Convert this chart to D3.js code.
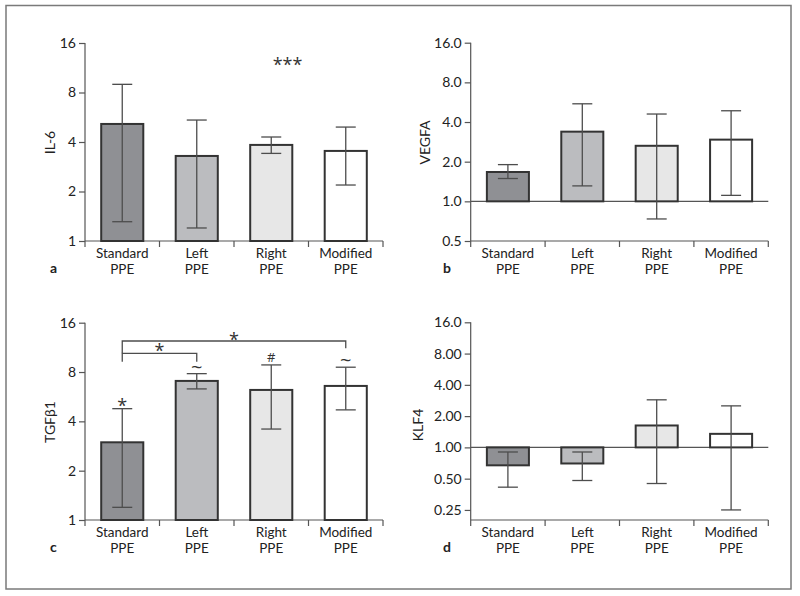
<!DOCTYPE html>
<html><head><meta charset="utf-8">
<script src="https://cdn.jsdelivr.net/npm/d3@7"></script>
<style>
body{margin:0;background:#fff;}
svg{display:block;font-family:Lato,"Open Sans",sans-serif;}
</style></head>
<body><svg id="chart" width="800" height="596"></svg>
<script>
const categories = [["Standard","PPE"],["Left","PPE"],["Right","PPE"],["Modified","PPE"]];
const barFills = ["#8f9094","#bbbcbf","#e7e7e7","#ffffff"];

// Panel a: IL-6
const il6Mean = [5.15, 3.29, 3.84, 3.53];
const il6Low  = [1.31, 1.20, 3.41, 2.19];
const il6High = [8.97, 5.44, 4.29, 4.93];
const il6Ticks = [1, 2, 4, 8, 16];
const il6TickLabels = ["1","2","4","8","16"];

// Panel b: VEGFA
const vegfaMean = [1.67, 3.38, 2.64, 2.94];
const vegfaLow  = [1.49, 1.31, 0.735, 1.11];
const vegfaHigh = [1.90, 5.5, 4.6, 4.87];
const vegfaTicks = [0.5, 1, 2, 4, 8, 16];
const vegfaTickLabels = ["0.5","1.0","2.0","4.0","8.0","16.0"];

// Panel c: TGFβ1
const tgfMean = [2.98, 7.06, 6.22, 6.58];
const tgfLow  = [1.195, 6.31, 3.59, 4.70];
const tgfHigh = [4.78, 7.82, 8.84, 8.56];
const tgfTicks = [1, 2, 4, 8, 16];
const tgfTickLabels = ["1","2","4","8","16"];
const tgfMarks = ["*","~","#","~"];

// Panel d: KLF4
const klfMean = [0.672, 0.70, 1.625, 1.35];
const klfLow  = [0.414, 0.48, 0.449, 0.25];
const klfHigh = [0.903, 0.903, 2.87, 2.51];
const klfTicks = [0.25, 0.5, 1, 2, 4, 8, 16];
const klfTickLabels = ["0.25","0.50","1.00","2.00","4.00","8.00","16.0"];

const svg = d3.select("#chart");
svg.append("rect").attr("x",6).attr("y",5.5).attr("width",785).attr("height",583.5)
  .attr("fill","none").attr("stroke","#7a7a7a").attr("stroke-width",1.5);

const axisColor = "#555";
const textColor = "#222";
const panels = [
  {letter:"a", label:"IL-6", mean:il6Mean, low:il6Low, high:il6High, ticks:il6Ticks, tickLabels:il6TickLabels,
   domain:[1,16], base:1, x0:85, x1:383, yTop:43, yBot:241, labelX:55, labelY:142.5, letterX:50},
  {letter:"b", label:"VEGFA", mean:vegfaMean, low:vegfaLow, high:vegfaHigh, ticks:vegfaTicks, tickLabels:vegfaTickLabels,
   domain:[0.5,16], base:1, x0:470.7, x1:768.3, yTop:42.7, yBot:241, labelX:430, labelY:142.5, letterX:443, baseline:true},
  {letter:"c", label:"TGFβ1", mean:tgfMean, low:tgfLow, high:tgfHigh, ticks:tgfTicks, tickLabels:tgfTickLabels,
   domain:[1,16], base:1, x0:85, x1:383, yTop:322.7, yBot:520, labelX:55, labelY:422, letterX:50, marks:tgfMarks},
  {letter:"d", label:"KLF4", mean:klfMean, low:klfLow, high:klfHigh, ticks:klfTicks, tickLabels:klfTickLabels,
   domain:[0.2,16], base:1, x0:470.7, x1:768.3, yTop:322.3, yBot:520, labelX:423, labelY:425, letterX:443, baseline:true}
];

panels.forEach(p => {
  const g = svg.append("g");
  const x = d3.scaleBand().domain(d3.range(categories.length)).range([p.x0, p.x1]).padding(0);
  const y = d3.scaleLog().base(2).domain(p.domain).range([p.yBot, p.yTop]);

  // Y axis
  const yAxis = d3.axisLeft(y).tickValues(p.ticks).tickFormat((d,i)=>p.tickLabels[i]).tickSize(6).tickPadding(3);
  const ya = g.append("g").attr("transform",`translate(${p.x0},0)`).call(yAxis);
  ya.select(".domain").attr("d",`M-0,${p.yTop}V${p.yBot}`);
  ya.selectAll("path,line").attr("stroke",axisColor).attr("stroke-width",1.2);
  ya.selectAll("text").attr("font-size",14).attr("fill",textColor).attr("font-family","Lato,'Open Sans',sans-serif");

  // X axis with ticks at band boundaries
  const xa = g.append("g").attr("transform",`translate(0,${p.yBot})`);
  xa.append("line").attr("x1",p.x0).attr("x2",p.x1).attr("stroke",axisColor).attr("stroke-width",1.2);
  const bounds = d3.range(categories.length+1).map(i => p.x0 + i*x.step());
  xa.selectAll("line.tk").data(bounds).join("line").attr("class","tk")
    .attr("x1",d=>d).attr("x2",d=>d).attr("y1",0).attr("y2",6)
    .attr("stroke",axisColor).attr("stroke-width",1.2);
  [0,1].forEach(k => {
    xa.selectAll(`text.cat${k}`).data(categories).join("text").attr("class",`cat${k}`)
      .attr("text-anchor","middle").attr("font-size",13.5).attr("fill",textColor)
      .attr("x",(d,i)=>x(i)+x.bandwidth()/2).attr("y",k===0?16.5:33).text(d=>d[k]);
  });

  // Baseline at 1
  if (p.baseline) {
    g.append("line").attr("x1",p.x0).attr("x2",p.x1).attr("y1",y(p.base)).attr("y2",y(p.base))
      .attr("stroke",axisColor).attr("stroke-width",1.2);
  }

  const bw = x.bandwidth()*0.565;
  const cx = i => x(i) + x.bandwidth()/2;
  // Bars
  g.selectAll("rect.bar").data(p.mean).join("rect").attr("class","bar")
    .attr("x",(d,i)=>cx(i)-bw/2).attr("width",bw)
    .attr("y",d=>Math.min(y(d),y(p.base))).attr("height",d=>Math.abs(y(d)-y(p.base)))
    .attr("fill",(d,i)=>barFills[i]).attr("stroke","#333").attr("stroke-width",2);

  // Error bars
  const cap = 10;
  const eg = g.selectAll("g.err").data(p.mean).join("g").attr("class","err")
    .attr("stroke","#4d4d4d").attr("stroke-width",1.3);
  eg.append("line").attr("x1",(d,i)=>cx(i)).attr("x2",(d,i)=>cx(i))
    .attr("y1",(d,i)=>y(p.low[i])).attr("y2",(d,i)=>y(p.high[i]));
  eg.append("line").attr("x1",(d,i)=>cx(i)-cap).attr("x2",(d,i)=>cx(i)+cap)
    .attr("y1",(d,i)=>y(p.high[i])).attr("y2",(d,i)=>y(p.high[i]));
  eg.append("line").attr("x1",(d,i)=>cx(i)-cap).attr("x2",(d,i)=>cx(i)+cap)
    .attr("y1",(d,i)=>y(p.low[i])).attr("y2",(d,i)=>y(p.low[i]));

  // Axis label
  g.append("text").attr("transform",`translate(${p.labelX},${p.labelY}) rotate(-90)`)
    .attr("text-anchor","middle").attr("font-size",14).attr("fill",textColor).text(p.label);
  // Panel letter
  g.append("text").attr("x",p.letterX).attr("y",p.yBot+32).attr("font-size",14).attr("font-weight","bold")
    .attr("fill",textColor).text(p.letter);

  p.x = x; p.y = y; p.cx = cx; p.g = g;
});

// Panel a significance
{
  const p = panels[0];
  p.g.append("text").attr("x",(p.cx(2)+p.cx(3))/2 - 21).attr("y",p.yTop+28).attr("text-anchor","middle")
    .attr("font-family","'Open Sans',sans-serif")
    .attr("font-size",18).attr("fill","#333").text("***");
}
// Panel c marks and brackets
{
  const p = panels[2];
  const markSize = {"*":18, "~":20, "#":13};
  const markShift = {"*":3, "~":0, "#":-3};
  p.g.selectAll("text.mark").data(p.marks).join("text").attr("class","mark")
    .attr("x",(d,i)=>p.cx(i)).attr("text-anchor","middle")
    .attr("y",(d,i)=>p.y(p.high[i]) + markShift[d])
    .attr("font-family","'Open Sans',sans-serif")
    .attr("font-size",d=>markSize[d]).attr("fill","#333").text(d=>d);
  const bg = p.g.append("g").attr("fill","none").attr("stroke","#4d4d4d").attr("stroke-width",1.3);
  const xs = p.cx(0), xl = p.cx(1), xm = p.cx(3);
  bg.append("path").attr("d",`M${xs},361.7V353.3H${xl}V361.7`);
  bg.append("path").attr("d",`M${xs},353.3V341H${xm}V348.3`);
  p.g.append("text").attr("x",(xs+xl)/2).attr("y",357).attr("text-anchor","middle")
    .attr("font-family","'Open Sans',sans-serif")
    .attr("font-size",18).attr("fill","#333").text("*");
  p.g.append("text").attr("x",(xs+xm)/2).attr("y",346).attr("text-anchor","middle")
    .attr("font-family","'Open Sans',sans-serif")
    .attr("font-size",18).attr("fill","#333").text("*");
}
</script></body></html>
